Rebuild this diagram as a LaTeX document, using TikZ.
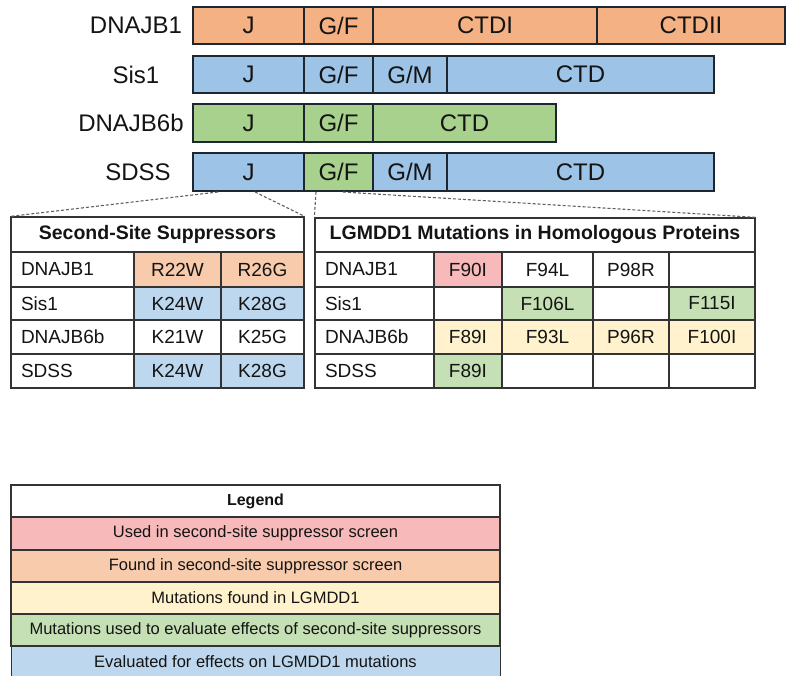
\documentclass[tikz,border=0pt]{standalone}
\usepackage{fontspec}
\setmainfont{Liberation Sans}
\usetikzlibrary{calc}

\definecolor{barOrange}{HTML}{F4B183}
\definecolor{barBlue}{HTML}{9DC3E6}
\definecolor{barGreen}{HTML}{A9D18E}
\definecolor{cOrange}{HTML}{F8CBAD}
\definecolor{cBlue}{HTML}{BDD7EE}
\definecolor{cGreen}{HTML}{C5E0B4}
\definecolor{cYellow}{HTML}{FFF2CC}
\definecolor{cPink}{HTML}{F7B9B9}
\definecolor{lineDark}{HTML}{1E2630}
\definecolor{gridDark}{HTML}{333333}
\definecolor{txt}{HTML}{141414}

% box with corners (x1,y1)-(x2,y2), centred text
\newcommand\boxcell[8]{%
  \node[#8,fill=#6,minimum width={(#3-#2)*1pt},minimum height={(#5-#4)*1pt}]
    (#1) at ({(#2+#3)/2},{(#4+#5)/2}) {#7};}
% same, text flush left
\newcommand\leftcell[8]{%
  \node[#8,fill=#6,minimum width={(#3-#2)*1pt},minimum height={(#5-#4)*1pt},
        text width={(#3-#2)*1pt-20pt},align=left]
    (#1) at ({(#2+#3)/2},{(#4+#5)/2}) {#7};}

\begin{document}
\begin{tikzpicture}[x=1pt,y=-1pt,
  barseg/.style={draw=lineDark,line width=1.8pt,inner sep=0pt,text=txt,
    font=\fontsize{24}{28}\selectfont},
  tcell/.style={draw=gridDark,line width=1.3pt,inner sep=0pt,inner xsep=10pt,text=txt,
    font=\fontsize{19}{22}\selectfont},
  ttitle/.style={tcell,font=\bfseries\fontsize{19.5}{22}\selectfont},
  lcell/.style={draw=gridDark,line width=1.3pt,inner sep=0pt,text=txt,
    font=\fontsize{16.5}{19}\selectfont},
  ltitle/.style={lcell,font=\bfseries\fontsize{16}{19}\selectfont},
  protname/.style={text=txt,font=\fontsize{24}{28}\selectfont,inner sep=0pt},
  zoomline/.style={draw=gray!75!black,line width=1.1pt,dash pattern=on 3pt off 2pt}
]
\useasboundingbox (0,0) rectangle (786,676);

% ---------- domain bars ----------
\node[protname] (nB1) at (136,25.5) {DNAJB1};
\boxcell{b1J}{193}{304}{7}{44}{barOrange}{J}{barseg}
\boxcell{b1GF}{304}{373}{7}{44}{barOrange}{G/F}{barseg}
\boxcell{b1C1}{373}{597}{7}{44}{barOrange}{CTDI}{barseg}
\boxcell{b1C2}{597}{785}{7}{44}{barOrange}{CTDII}{barseg}

\node[protname] (nS1) at (136,74.5) {Sis1};
\boxcell{s1J}{193}{304}{56}{93}{barBlue}{J}{barseg}
\boxcell{s1GF}{304}{373}{56}{93}{barBlue}{G/F}{barseg}
\boxcell{s1GM}{373}{447}{56}{93}{barBlue}{G/M}{barseg}
\boxcell{s1C}{447}{714}{56}{93}{barBlue}{CTD}{barseg}

\node[protname] (nB6) at (131,123) {DNAJB6b};
\boxcell{b6J}{193}{304}{104}{142}{barGreen}{J}{barseg}
\boxcell{b6GF}{304}{373}{104}{142}{barGreen}{G/F}{barseg}
\boxcell{b6C}{373}{556}{104}{142}{barGreen}{CTD}{barseg}

\node[protname] (nSD) at (138,172) {SDSS};
\boxcell{sdJ}{193}{304}{153}{191}{barBlue}{J}{barseg}
\boxcell{sdGF}{304}{373}{153}{191}{barGreen}{G/F}{barseg}
\boxcell{sdGM}{373}{447}{153}{191}{barBlue}{G/M}{barseg}
\boxcell{sdC}{447}{714}{153}{191}{barBlue}{CTD}{barseg}

% ---------- second-site suppressor table ----------
\boxcell{tA}{11}{304}{217}{252}{white}{Second-Site Suppressors}{ttitle}
\leftcell{tA1}{11}{134}{252}{287}{white}{DNAJB1}{tcell}
\boxcell{tA1a}{134}{221}{252}{287}{cOrange}{R22W}{tcell}
\boxcell{tA1b}{221}{304}{252}{287}{cOrange}{R26G}{tcell}
\leftcell{tA2}{11}{134}{287}{320}{white}{Sis1}{tcell}
\boxcell{tA2a}{134}{221}{287}{320}{cBlue}{K24W}{tcell}
\boxcell{tA2b}{221}{304}{287}{320}{cBlue}{K28G}{tcell}
\leftcell{tA3}{11}{134}{320}{354}{white}{DNAJB6b}{tcell}
\boxcell{tA3a}{134}{221}{320}{354}{white}{K21W}{tcell}
\boxcell{tA3b}{221}{304}{320}{354}{white}{K25G}{tcell}
\leftcell{tA4}{11}{134}{354}{388}{white}{SDSS}{tcell}
\boxcell{tA4a}{134}{221}{354}{388}{cBlue}{K24W}{tcell}
\boxcell{tA4b}{221}{304}{354}{388}{cBlue}{K28G}{tcell}

% ---------- LGMDD1 mutation table ----------
\boxcell{tB}{315}{755}{218}{252}{white}{LGMDD1 Mutations in Homologous Proteins}{ttitle}
\leftcell{tB1}{315}{434}{252}{287}{white}{DNAJB1}{tcell}
\boxcell{tB1a}{434}{502}{252}{287}{cPink}{F90I}{tcell}
\boxcell{tB1b}{502}{593}{252}{287}{white}{F94L}{tcell}
\boxcell{tB1c}{593}{669}{252}{287}{white}{P98R}{tcell}
\boxcell{tB1d}{669}{755}{252}{287}{white}{}{tcell}
\leftcell{tB2}{315}{434}{287}{320}{white}{Sis1}{tcell}
\boxcell{tB2a}{434}{502}{287}{320}{white}{}{tcell}
\boxcell{tB2b}{502}{593}{287}{320}{cGreen}{F106L}{tcell}
\boxcell{tB2c}{593}{669}{287}{320}{white}{}{tcell}
\boxcell{tB2d}{669}{755}{287}{320}{cGreen}{F115I}{tcell}
\leftcell{tB3}{315}{434}{320}{354}{white}{DNAJB6b}{tcell}
\boxcell{tB3a}{434}{502}{320}{354}{cYellow}{F89I}{tcell}
\boxcell{tB3b}{502}{593}{320}{354}{cYellow}{F93L}{tcell}
\boxcell{tB3c}{593}{669}{320}{354}{cYellow}{P96R}{tcell}
\boxcell{tB3d}{669}{755}{320}{354}{cYellow}{F100I}{tcell}
\leftcell{tB4}{315}{434}{354}{388}{white}{SDSS}{tcell}
\boxcell{tB4a}{434}{502}{354}{388}{cGreen}{F89I}{tcell}
\boxcell{tB4b}{502}{593}{354}{388}{white}{}{tcell}
\boxcell{tB4c}{593}{669}{354}{388}{white}{}{tcell}
\boxcell{tB4d}{669}{755}{354}{388}{white}{}{tcell}

% ---------- dashed zoom lines ----------
\coordinate (zA1) at (218,192);
\coordinate (zA2) at (255,192);
\coordinate (zB1) at (316,192);
\coordinate (zB2) at (343,192);
\draw[zoomline] (zA1) -- (tA.north west);
\draw[zoomline] (zA2) -- (tA.north east);
\draw[zoomline] (zB1) -- (tB.north west);
\draw[zoomline] (zB2) -- (tB.north east);

% ---------- legend ----------
\boxcell{lg}{11}{500}{485}{517}{white}{Legend}{ltitle}
\boxcell{lg1}{11}{500}{517}{550}{cPink}{Used in second-site suppressor screen}{lcell}
\boxcell{lg2}{11}{500}{550}{582}{cOrange}{Found in second-site suppressor screen}{lcell}
\boxcell{lg3}{11}{500}{582}{614}{cYellow}{Mutations found in LGMDD1}{lcell}
\boxcell{lg4}{11}{500}{614}{646}{cGreen}{Mutations used to evaluate effects of second-site suppressors}{lcell}
\node[lcell,fill=cBlue,minimum width=489pt,minimum height=40pt,anchor=north west,
      text depth=0pt] (lg5) at (11,646) {};
\node[text=txt,font=\fontsize{16.5}{19}\selectfont,inner sep=0pt] (lg5t) at (255.5,662)
  {Evaluated for effects on LGMDD1 mutations};
\end{tikzpicture}
\end{document}
